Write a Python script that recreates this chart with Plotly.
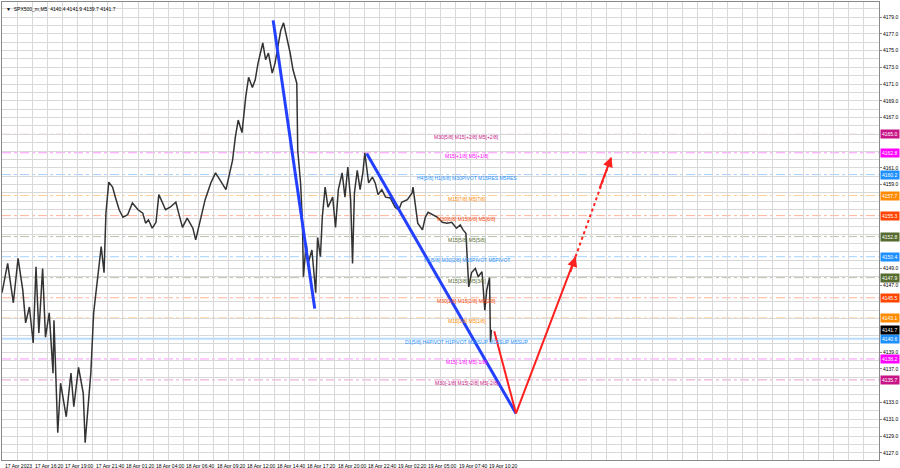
import plotly.graph_objects as go

# ---- price series (bar index on M5, close-ish price) ----
bars = [0,6,12,17,22,25,29,33,36,39,43,46,50,54,55,59,62,68,73,76,81,86,88,91,94,97,101,105,108,110,
        113,117,120,124,128,133,138,144,149,152,155,159,163,166,170,173,178,184,187,191,196,202,205,210,
        215,221,226,231,237,240,244,247,250,254,258,261,265,268,271,276,279,282,286,289,291,295,298,302,
        305,308,312,313,316,318,319,322,324,328,332,334,337,339,342,345,350,353,356,360,363,366,369,371,
        373,376,379,382,384,388,392,395,398,402,406,411,416,420,423,429,434,435,438,440,445,448,451,456,
        461,466,471,476,481,485,488,491,493,494,497,501,504,508,511,513,516,517,518]
prices = [4146.1,4149.6,4144.9,4150.2,4146.4,4142.5,4144.4,4140.1,4149.2,4141.3,4149.0,4140.8,4143.7,
          4136.5,4142.8,4129.4,4135.3,4131.3,4136.5,4132.5,4137.2,4134.1,4128.2,4132.1,4136.5,4143.7,
          4147.3,4151.6,4148.5,4155.6,4159.3,4158.7,4157.5,4156.0,4155.1,4155.4,4156.8,4156.0,4155.6,
          4154.4,4154.8,4153.8,4154.5,4157.8,4156.8,4156.0,4156.3,4156.9,4155.6,4153.9,4155.0,4153.8,
          4152.4,4154.9,4157.2,4159.2,4160.4,4159.5,4158.4,4159.9,4161.9,4164.7,4166.7,4165.2,4169.5,
          4171.8,4170.6,4171.5,4173.5,4175.9,4173.9,4174.7,4172.3,4173.5,4174.7,4177.4,4178.3,4176.3,
          4174.7,4172.7,4171.1,4163.1,4159.2,4154.4,4148.0,4152.0,4149.6,4151.2,4146.1,4152.7,4150.4,
          4155.1,4158.7,4156.3,4157.5,4153.9,4158.4,4160.4,4157.5,4161.1,4157.2,4149.6,4158.0,4160.7,
          4158.4,4160.5,4162.8,4159.2,4159.9,4159.2,4157.8,4158.4,4157.5,4157.4,4156.3,4156.0,4156.9,
          4157.2,4158.0,4158.7,4156.0,4154.4,4153.6,4155.1,4155.7,4155.4,4155.1,4154.5,4154.4,4154.5,
          4153.8,4154.2,4153.6,4153.2,4149.2,4146.8,4148.5,4149.0,4148.0,4148.6,4144.0,4146.4,4147.9,
          4140.2,4141.7]

# ---- x axis labels (every 32 bars) ----
time_labels = ["17 Apr 2023","17 Apr 16:20","17 Apr 19:00","17 Apr 21:40","18 Apr 01:20","18 Apr 04:00",
               "18 Apr 06:40","18 Apr 09:20","18 Apr 12:00","18 Apr 14:40","18 Apr 17:20","18 Apr 20:00",
               "18 Apr 22:40","19 Apr 02:20","19 Apr 05:00","19 Apr 07:40","19 Apr 10:20"]
label_step = 32

# ---- y tick values (every 2 points) ----
y_ticks = [4127.0 + 2 * i for i in range(27)]

# ---- Murrey levels ----
level_values = [4165.0,4162.8,4160.2,4157.7,4155.3,4152.8,4150.4,4147.9,4145.5,4143.1,4140.6,4138.2,4135.7]
level_texts = ["M30[5/8] M15[+2/8] M5[+2/8]","M15[+1/8] M5[+1/8]","H4[5/8] H1[6/8] M30PIVOT M15RES M5RES",
               "M15[7/8] M5[7/8]","M30[6/8] M15[6/8] M5[6/8]","M15[5/8] M5[5/8]",
               "H1[5/8] M30[2/8] M15PIVOT M5PIVOT","M15[3/8] M5[3/8]","M30[1/8] M15[2/8] M5[2/8]",
               "M15[1/8] M5[1/8]","D1[5/8] H4PIVOT H1PIVOT M30SUP M15SUP M5SUP","M15[-1/8] M5[-1/8]",
               "M30[-1/8] M15[-2/8] M5[-2/8]"]
level_colors = ["#c71585","#ff00ff","#1e90ff","#ff8c00","#ff4500","#556b2f","#1e90ff","#556b2f",
                "#ff4500","#ff8c00","#1e90ff","#ff00ff","#c71585"]
label_bar = 492
current_price = 4141.7

# ---- drawn objects ----
blue1_bars, blue1_prices = [287, 331], [4178.6, 4144.2]
blue2_bars, blue2_prices = [386, 544], [4162.7, 4131.7]
red_bars, red_prices = [521, 544, 607], [4141.5, 4131.7, 4150.4]
dot_bars, dot_prices = [607, 645], [4150.4, 4162.3]

y_range = [4126.14, 4180.79]
x_range = [0, 928.2]

boxed = level_values + [current_price]
shown_ticks = [t for t in y_ticks if all(abs(t - b) > 0.75 for b in boxed)]

fig = go.Figure()

fig.add_trace(go.Scatter(x=bars, y=prices, mode="lines",
                         line=dict(color="#333333", width=1.5), hoverinfo="skip"))
fig.add_trace(go.Scatter(x=blue1_bars, y=blue1_prices, mode="lines",
                         line=dict(color="#2340ff", width=3), hoverinfo="skip"))
fig.add_trace(go.Scatter(x=blue2_bars, y=blue2_prices, mode="lines",
                         line=dict(color="#2340ff", width=3), hoverinfo="skip"))
fig.add_trace(go.Scatter(x=red_bars, y=red_prices, mode="lines",
                         line=dict(color="#ff2020", width=2), hoverinfo="skip"))
fig.add_trace(go.Scatter(x=dot_bars, y=dot_prices, mode="lines",
                         line=dict(color="#ff2020", width=2, dash="dot"), hoverinfo="skip"))

annotations = []
shapes = []
for v, t, c in zip(level_values, level_texts, level_colors):
    solid = (v == 4140.6)
    shapes.append(dict(type="line", xref="paper", x0=0, x1=1, yref="y", y0=v, y1=v,
                       line=dict(color=c, width=2 if solid else 1, dash="solid" if solid else "dashdot"),
                       opacity=0.3 if solid else 0.4, layer="below"))
    annotations.append(dict(x=label_bar, y=v, xref="x", yref="y", text=t, showarrow=False,
                            xanchor="center", yanchor="middle", yshift=-3,
                            font=dict(size=5, color=c, family="Liberation Sans")))
    annotations.append(dict(x=1, y=v, xref="paper", yref="y", text=f"{v:.1f}", showarrow=False,
                            xanchor="left", yanchor="middle", xshift=1, bgcolor=c, borderpad=1,
                            font=dict(size=5, color="white", family="Liberation Sans")))
annotations.append(dict(x=1, y=current_price, xref="paper", yref="y", text=f"{current_price:.1f}",
                        showarrow=False, xanchor="left", yanchor="middle", xshift=1, bgcolor="#000000",
                        borderpad=1, font=dict(size=5, color="white", family="Liberation Sans")))

for k, lab in enumerate(time_labels):
    annotations.append(dict(x=k * label_step, y=0, xref="x", yref="paper", text=lab, showarrow=False,
                            xanchor="left", yanchor="top", yshift=-1, xshift=1,
                            font=dict(size=5, color="#000000", family="Liberation Sans")))

# arrowheads
annotations.append(dict(x=dot_bars[1], y=dot_prices[1], ax=dot_bars[0] + 25, ay=dot_prices[0] + 8,
                        xref="x", yref="y", axref="x", ayref="y", showarrow=True, arrowhead=2,
                        arrowsize=1, arrowwidth=2, arrowcolor="#ff2020", text=""))
annotations.append(dict(x=red_bars[2], y=red_prices[2], ax=red_bars[2] - 6, ay=red_prices[2] - 2,
                        xref="x", yref="y", axref="x", ayref="y", showarrow=True, arrowhead=2,
                        arrowsize=1, arrowwidth=2, arrowcolor="#ff2020", text=""))

annotations.append(dict(x=0, y=1, xref="paper", yref="paper", text="▼  SPX500_m,M5  4140.4 4141.9 4139.7 4141.7",
                        showarrow=False, xanchor="left", yanchor="top", xshift=2, yshift=-2,
                        font=dict(size=5, color="#000000", family="Liberation Sans")))

fig.update_layout(
    width=900, height=468,
    margin=dict(l=1, r=20, t=2, b=8),
    paper_bgcolor="white", plot_bgcolor="white",
    showlegend=False,
    shapes=shapes, annotations=annotations,
    xaxis=dict(range=x_range, tickmode="linear", dtick=16, tick0=0, showgrid=True, gridcolor="#d8d8d8",
               gridwidth=1, showticklabels=False, zeroline=False, showline=True, linecolor="#8a8a8a",
               mirror=True, ticks=""),
    yaxis=dict(range=y_range, side="right", tickmode="array", tickvals=shown_ticks,
               ticktext=[f"{t:.1f}" for t in shown_ticks],
               showgrid=False, zeroline=False, showline=True, linecolor="#8a8a8a",
               mirror=True, ticks="outside", ticklen=2, tickcolor="#8a8a8a",
               tickfont=dict(size=5, color="#000000", family="Liberation Sans"),
               minor=dict(tickmode="linear", tick0=4127, dtick=1, showgrid=True, gridcolor="#d8d8d8", ticks="")),
)

fig.write_html("out.html", config={"displayModeBar": False},
               post_script="document.body.style.margin='0';document.body.style.padding='0';")
